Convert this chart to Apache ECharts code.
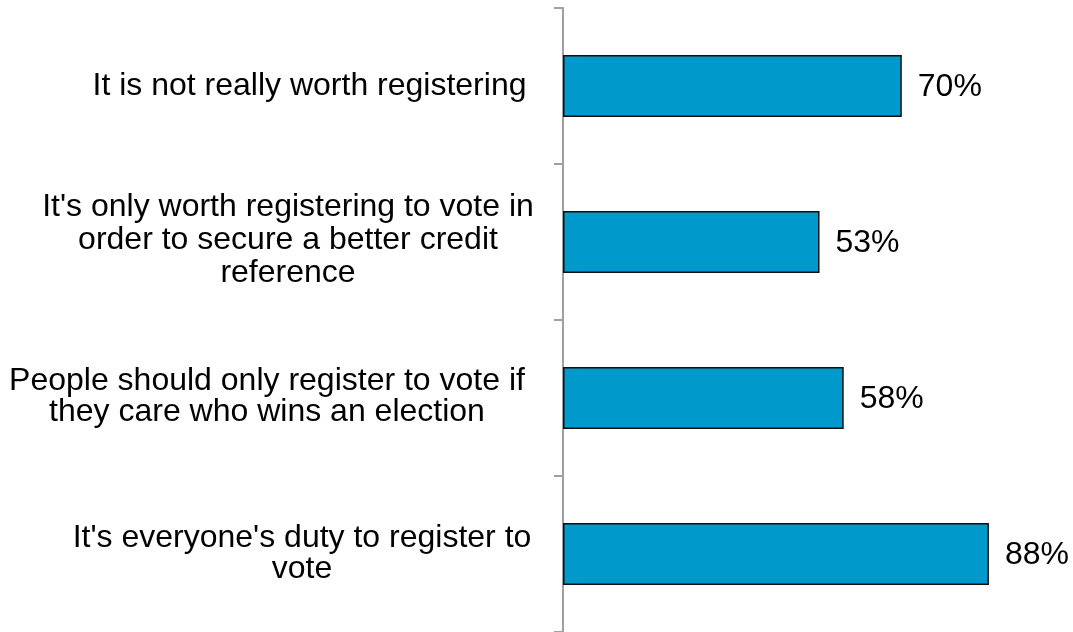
<!DOCTYPE html>
<html>
<head>
<meta charset="utf-8">
<script src="https://cdn.jsdelivr.net/npm/echarts@6/dist/echarts.min.js"></script>
<style>
  html, body { margin: 0; padding: 0; background: #ffffff; }
  #chart { width: 1073px; height: 632px; }
</style>
</head>
<body>
<div id="chart"></div>
<script>
// Statements, listed top to bottom
const categories = [
  "It is not really worth registering",
  "It's only worth registering to vote in\norder to secure a better credit\nreference",
  "People should only register to vote if\nthey care who wins an election",
  "It's everyone's duty to register to\nvote"
];

// Share agreeing with each statement (%)
const values = [70, 53, 58, 88];

// Width of the right-aligned box each label's lines are centred in
const labelBoxWidth = [471, 514, 556, 486];
// Line spacing of each label block
const labelLineHeight = [31, 33, 31, 31];
// Bottom padding of each label block (nudges it upward)
const labelPadBottom = [0, 4, 2, 0];

const chart = echarts.init(document.getElementById('chart'), null, { renderer: 'canvas' });

const FONT = '"Liberation Sans", Arial, Helvetica, sans-serif';

const richStyles = {};
labelBoxWidth.forEach((w, i) => {
  richStyles['c' + i] = {
    width: w,
    align: 'center',
    color: '#000000',
    fontFamily: FONT,
    fontSize: 32,
    lineHeight: labelLineHeight[i],
    padding: [0, 0, labelPadBottom[i], 0]
  };
});

chart.setOption({
  animation: false,
  backgroundColor: '#ffffff',
  grid: {
    left: 563, right: 26, top: 8, bottom: 0,
    containLabel: false,
    outerBoundsMode: 'none'
  },
  xAxis: {
    type: 'value',
    min: 0,
    max: 100,
    show: false
  },
  yAxis: {
    type: 'category',
    inverse: true,
    data: categories,
    axisLine: { show: true, lineStyle: { color: '#a0a0a0', width: 2 } },
    axisTick: { show: true, length: 9, lineStyle: { color: '#a0a0a0', width: 2 } },
    axisLabel: {
      interval: 0,
      hideOverlap: false,
      margin: 18,
      align: 'right',
      formatter: (value, index) => '{c' + index + '|' + value + '}',
      rich: richStyles
    },
    splitLine: { show: false }
  },
  series: [{
    type: 'bar',
    data: values,
    barWidth: 62,
    itemStyle: {
      color: '#0099cc',
      borderColor: '#111111',
      borderWidth: 1.5
    },
    label: {
      show: true,
      position: 'right',
      distance: 16,
      offset: [0, 1],
      formatter: p => p.value + '%',
      color: '#000000',
      fontFamily: FONT,
      fontSize: 32
    }
  }]
});
</script>
</body>
</html>
